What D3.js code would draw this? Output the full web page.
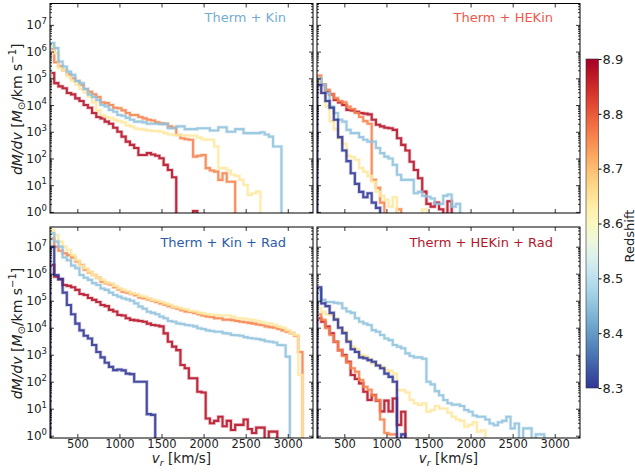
<!DOCTYPE html>
<html><head><meta charset="utf-8">
<script src="https://cdn.jsdelivr.net/npm/d3@7"></script>
<style>body{margin:0;background:#fff} svg{font-family:"DejaVu Sans",sans-serif}</style>
</head><body><svg id="c" width="635" height="473"></svg>
<script>
// ---------------- data ----------------
const redshifts = [8.88, 8.76, 8.64, 8.45, 8.30];      // line order: dark red -> dark blue
const binStart = 175, binWidth = 50;                   // radial-velocity bins, km/s
const panelTitles = ["Therm + Kin", "Therm + HEKin", "Therm + Kin + Rad", "Therm + HEKin + Rad"];
const xTicks = [500, 1000, 1500, 2000, 2500, 3000];
const yTickExps = [0, 1, 2, 3, 4, 5, 6, 7];
const cbTicks = [8.3, 8.4, 8.5, 8.6, 8.7, 8.8, 8.9];

// log10(dM/dv) per bin, null = empty bin. Order of each list follows `redshifts`.
const thermKin = [
  [5.2,4.82,4.7,4.63,4.45,4.4,4.25,4.15,4.0,3.9,3.7,3.55,3.5,3.38,3.3,3.15,3.0,2.82,2.63,2.51,2.39,2.13,2.13,2.2,2.15,2.1,2.01,1.76,1.57,1.3,null,null,null,null,0.03],
  [6.1,5.6,5.45,5.3,5.15,5.0,4.9,4.75,4.6,4.5,4.4,4.3,4.1,4.07,4.0,3.9,3.88,3.8,3.7,3.63,3.63,3.55,3.5,3.45,3.42,3.35,3.32,3.3,3.2,3.15,2.88,2.76,2.72,2.7,2.07,2.1,2.13,1.64,1.55,1.51,1.2,1.45,1.13,1.13],
  [6.2,5.94,5.38,5.3,5.07,4.9,4.76,4.6,4.47,4.32,4.1,3.8,3.63,3.55,3.51,3.45,3.4,3.35,3.25,3.2,3.12,3.1,3.08,3.05,3.03,3.03,3.0,2.95,2.9,2.88,2.88,2.87,2.86,2.85,2.85,2.78,2.72,2.7,2.7,2.45,1.64,1.64,1.55,1.39,1.35,1.2,1.01,0.64,0.7,0.76],
  [6.32,6.13,5.63,5.44,5.25,5.13,4.9,4.82,4.6,4.4,4.3,4.19,4.0,3.95,3.82,3.75,3.63,3.6,3.52,3.45,3.38,3.38,3.35,3.3,3.3,3.3,3.28,3.3,3.13,3.13,3.2,3.2,3.1,3.1,3.1,3.13,3.13,3.13,3.05,3.05,3.17,3.17,3.0,3.0,3.1,3.1,2.95,2.95,2.95,2.95,2.98,2.9,2.82,2.45,2.45],
  null
];
const thermHEKin = [
  [4.94,4.76,4.5,4.4,4.19,4.1,4.0,3.82,3.8,3.75,3.7,3.68,3.65,3.45,3.26,3.2,3.15,3.13,3.07,2.76,2.51,2.3,1.88,1.57,1.26,0.76,0.3,0.2,0.35,0.1,null,0.4],
  [5.1,4.76,4.57,4.4,4.26,4.15,4.1,3.94,3.85,3.7,3.55,3.4,3.3,1.2,0.9,0.35,null,null,null,0.1],
  [4.9,4.45,3.95,3.4,3.1,2.75,2.55,2.1,2.05,1.95,1.64,1.5,1.35,1.13,0.76,0.6,0.45,0.2,0.55,null,null,null,null,null,null,0.1],
  [5.0,4.76,4.45,3.94,3.7,3.45,3.38,3.07,2.95,2.95,2.8,2.7,2.63,2.63,2.39,2.2,2.07,2.0,1.76,1.39,1.2,1.2,1.2,0.7,0.75,0.6,0.57,0.5,0.3,0.3,0.6,0.65,0.2,0.3],
  [4.75,4.45,4.15,3.9,3.45,2.8,2.3,1.9,1.45,1.05,0.75,0.55,0.7,0.35,0.15]
];
const thermKinRad = [
  [6.32,5.89,5.8,5.58,5.55,5.5,5.4,5.25,5.21,5.1,5.03,4.95,4.84,4.8,4.66,4.6,4.47,4.45,4.35,4.29,4.27,4.25,4.22,4.15,4.1,4.08,4.05,3.79,3.48,3.3,3.17,2.62,2.5,2.13,2.13,1.63,1.6,0.64,0.46,0.55,0.7,0.35,0.55,0.21,0.4,0.4,0.6,0.25,0.1,0.3,0.3,null,0.15,0.15],
  [7.3,7.0,6.85,6.76,6.69,6.6,6.45,6.32,6.15,6.05,5.95,5.85,5.7,5.65,5.6,5.5,5.42,5.33,5.3,5.25,5.2,5.12,5.09,5.05,5.0,4.95,4.9,4.85,4.8,4.75,4.7,4.65,4.6,4.58,4.55,4.5,4.45,4.42,4.4,4.35,4.35,4.3,4.3,4.28,4.25,4.22,4.2,4.18,4.15,4.12,4.1,4.05,4.02,4.0,3.95,3.9,3.85,3.8,3.7,3.1],
  [7.62,7.43,7.19,7.0,6.88,6.69,6.5,6.3,6.2,6.07,5.95,5.85,5.77,5.68,5.64,5.55,5.45,5.4,5.35,5.27,5.25,5.18,5.15,5.08,5.03,5.0,4.95,4.9,4.85,4.78,4.75,4.7,4.68,4.62,4.6,4.55,4.53,4.5,4.47,4.47,4.45,4.45,4.45,4.4,4.35,4.35,4.33,4.3,4.28,4.25,4.2,4.16,4.15,4.1,4.04,4.0,3.91,3.8,3.73,2.25],
  [7.5,7.19,7.0,6.6,6.5,6.3,6.2,5.95,5.85,5.77,5.65,5.58,5.45,5.4,5.3,5.21,5.15,5.09,5.05,5.0,4.9,4.78,4.7,4.59,4.55,4.5,4.41,4.35,4.25,4.22,4.16,4.14,4.1,4.08,4.05,3.98,3.95,3.9,3.88,3.85,3.85,3.8,3.78,3.73,3.72,3.7,3.65,3.62,3.6,3.58,3.55,3.5,3.48,3.45,3.36,3.35,2.93],
  [7.0,5.95,5.8,5.3,4.84,4.5,4.15,3.9,3.7,3.6,3.36,3.1,2.9,2.7,2.55,2.43,2.45,2.42,2.3,2.28,2.0,2.0,2.0,0.8,0.77]
];
const thermHEKinRad = [
  [4.35,4.22,4.04,3.79,3.48,3.17,2.99,2.74,2.25,2.1,1.94,1.63,1.32,1.51,1.3,0.9,1.3,0.9,1.38,0.4,0.89],
  [4.5,4.29,3.98,3.73,3.48,3.17,2.95,2.7,2.5,2.37,2.06,1.81,1.7,1.5,1.32,0.6,0.1,0.05,0.05],
  [4.72,4.59,4.5,4.47,4.35,4.0,3.85,3.54,3.3,3.2,3.0,2.95,2.85,2.68,2.6,2.56,2.43,2.4,2.3,1.69,1.69,1.6,1.32,1.2,1.14,1.2,0.89,0.95,1.1,1.01,1.01,0.85,0.7,0.6,0.55,0.33,0.4,0.5,0.15,0.2],
  [5.4,5.03,4.95,4.95,4.92,4.9,4.72,4.6,4.55,4.35,4.22,4.15,4.1,3.91,3.85,3.73,3.6,3.54,3.36,3.3,3.24,3.05,2.95,2.9,2.9,2.85,2.0,1.9,1.65,1.5,1.32,1.2,1.15,1.15,1.1,0.95,0.89,0.75,0.7,0.7,0.6,0.45,0.39,0.5,0.55,0.7,0.27,0.45,null,0.27,0.27,null,0.05,0.05],
  [5.5,4.9,4.8,4.55,4.3,4.0,3.8,3.48,3.2,3.1,2.9,2.87,2.8,2.74,2.6,2.5,2.3,2.18,2.0,null,0.05]
];
const panelData = [thermKin, thermHEKin, thermKinRad, thermHEKinRad];
const titleColors = ["#74add1", "#f0584a", "#2b5ca6", "#b2182b"];

// ---------------- layout ----------------
const svg = d3.select("#c");
const colsX = [50, 317], panelW = 263;
const rows = [{y0: 3.5, y1: 213, dom: [Math.pow(10,-0.04), Math.pow(10,7.8)]},
              {y0: 227, y1: 438, dom: [Math.pow(10,-0.085), Math.pow(10,7.73)]}];
const zScale = d3.scaleLinear().domain([8.3, 8.9]).range([0, 1]);
const zColor = z => d3.interpolateRdYlBu(1 - zScale(z));

panelData.forEach((curves, p) => {
  const r = rows[Math.floor(p / 2)], c = p % 2;
  const x0 = colsX[c];
  const x = d3.scaleLinear().domain([175, 3300]).range([x0, x0 + panelW]);
  const y = d3.scaleLog().domain(r.dom).range([r.y1, r.y0]);
  const g = svg.append("g");
  const cid = "clip" + p;
  svg.append("clipPath").attr("id", cid).append("rect")
    .attr("x", x0).attr("y", r.y0).attr("width", panelW).attr("height", r.y1 - r.y0);
  const lg = g.append("g").attr("clip-path", `url(#${cid})`);
  const floor = 1e-3;
  const line = d3.line().x(d => x(d[0])).y(d => y(d[1])).curve(d3.curveStepAfter);
  curves.forEach((vals, k) => {
    if (!vals) return;
    const pts = [[binStart, floor]];
    vals.forEach((v, i) => pts.push([binStart + i * binWidth, v == null ? floor : Math.pow(10, v)]));
    pts.push([binStart + vals.length * binWidth, floor]);
    const col = zColor(redshifts[k]);
    lg.append("path").attr("d", line(pts)).attr("fill", "none")
      .attr("stroke", col).attr("stroke-width", 3.6).attr("stroke-opacity", 0.25).attr("stroke-linejoin", "miter");
    lg.append("path").attr("d", line(pts)).attr("fill", "none")
      .attr("stroke", col).attr("stroke-width", 2.1).attr("stroke-opacity", 0.85).attr("stroke-linejoin", "miter");
  });
  // axes (ticks inward)
  const bx = g.append("g").attr("transform", `translate(0,${r.y1})`)
    .call(d3.axisBottom(x).tickValues(xTicks).tickSize(-4).tickPadding(2.3).tickFormat(p >= 2 ? d3.format("d") : ""));
  g.append("g").attr("transform", `translate(0,${r.y0})`)
    .call(d3.axisTop(x).tickValues(xTicks).tickSize(-4).tickFormat(""));
  const majors = yTickExps.map(e => Math.pow(10, e));
  const minors = [];
  for (let e = -1; e <= 7; e++) for (let m = 2; m <= 9; m++) {
    const v = m * Math.pow(10, e);
    if (v >= r.dom[0] && v <= r.dom[1]) minors.push(v);
  }
  g.append("g").attr("transform", `translate(${x0},0)`)
    .call(d3.axisLeft(y).tickValues(majors).tickSize(-4).tickFormat(""));
  g.append("g").attr("transform", `translate(${x0},0)`)
    .call(d3.axisLeft(y).tickValues(minors).tickSize(-2).tickFormat(""));
  g.append("g").attr("transform", `translate(${x0 + panelW},0)`)
    .call(d3.axisRight(y).tickValues(majors).tickSize(-4).tickFormat(""));
  g.append("g").attr("transform", `translate(${x0 + panelW},0)`)
    .call(d3.axisRight(y).tickValues(minors).tickSize(-2).tickFormat(""));
  g.selectAll(".domain").remove();
  g.selectAll(".tick line").attr("stroke", "#000").attr("stroke-width", 0.8);
  bx.selectAll("text").attr("font-size", 11.5).attr("fill", "#222").attr("font-family", "DejaVu Sans");
  if (c === 0) {
    yTickExps.forEach(e => {
      const t = g.append("text").attr("x", x0 - 3).attr("y", y(Math.pow(10, e)) + 4.5)
        .attr("text-anchor", "end").attr("font-size", 12).attr("fill", "#222");
      t.append("tspan").text("10");
      t.append("tspan").attr("font-size", 8.5).attr("dy", -5.5).text(e);
    });
    const yc = (r.y0 + r.y1) / 2;
    const yl = g.append("text").attr("transform", `translate(21.5,${yc + 1}) rotate(-90)`)
      .attr("text-anchor", "middle").attr("font-size", 14).attr("fill", "#222");
    yl.append("tspan").attr("font-style", "italic").text("dM/dv");
    yl.append("tspan").text(" [");
    yl.append("tspan").attr("font-style", "italic").text("M");
    yl.append("tspan").attr("font-size", 10).attr("dy", 3).text("⊙");
    yl.append("tspan").attr("dy", -3).text("/km s");
    yl.append("tspan").attr("font-size", 10).attr("dy", -6).text("−1");
    yl.append("tspan").attr("dy", 6).text("]");
  }
  if (p >= 2) {
    const xl = g.append("text").attr("x", x0 + panelW / 2).attr("y", 463)
      .attr("text-anchor", "middle").attr("font-size", 13.5).attr("fill", "#222");
    xl.append("tspan").attr("font-style", "italic").text("v");
    xl.append("tspan").attr("font-style", "italic").attr("font-size", 9.5).attr("dy", 3).text("r");
    xl.append("tspan").attr("dy", -3).text(" [km/s]");
  }
  g.append("text").attr("x", x0 + panelW - 27).attr("y", r.y0 + (p < 2 ? 18.5 : 19.5))
    .attr("text-anchor", "end").attr("font-size", 13).attr("fill", titleColors[p])
    .text(panelTitles[p]);
  g.append("rect").attr("x", x0).attr("y", r.y0).attr("width", panelW).attr("height", r.y1 - r.y0)
    .attr("fill", "none").attr("stroke", "#000").attr("stroke-width", 1);
});

// ---------------- colorbar ----------------
const cb = {x: 586, w: 12.5, y0: 59, y1: 388};
const defs = svg.append("defs");
const grad = defs.append("linearGradient").attr("id", "cbg").attr("x1", 0).attr("y1", 1).attr("x2", 0).attr("y2", 0);
d3.range(0, 1.0001, 0.05).forEach(t => grad.append("stop").attr("offset", t).attr("stop-color", d3.interpolateRdYlBu(1 - t)));
const cy = d3.scaleLinear().domain([8.3, 8.9]).range([cb.y1, cb.y0]);
svg.append("rect").attr("x", cb.x).attr("y", cb.y0).attr("width", cb.w).attr("height", cb.y1 - cb.y0)
  .attr("fill", "url(#cbg)").attr("stroke", "#333").attr("stroke-width", 0.6);
svg.append("g").attr("transform", `translate(${cb.x + cb.w},0)`)
  .call(d3.axisRight(cy).tickValues(cbTicks).tickSize(3).tickPadding(1).tickFormat(d3.format(".1f")))
  .call(g => g.select(".domain").remove())
  .call(g => g.selectAll("text").attr("font-size", 13).attr("fill", "#222").attr("font-family", "DejaVu Sans"));
svg.append("text").attr("transform", `translate(633.5,236) rotate(-90)`)
  .attr("text-anchor", "middle").attr("font-size", 13).attr("fill", "#222").text("Redshift");
</script></body></html>
